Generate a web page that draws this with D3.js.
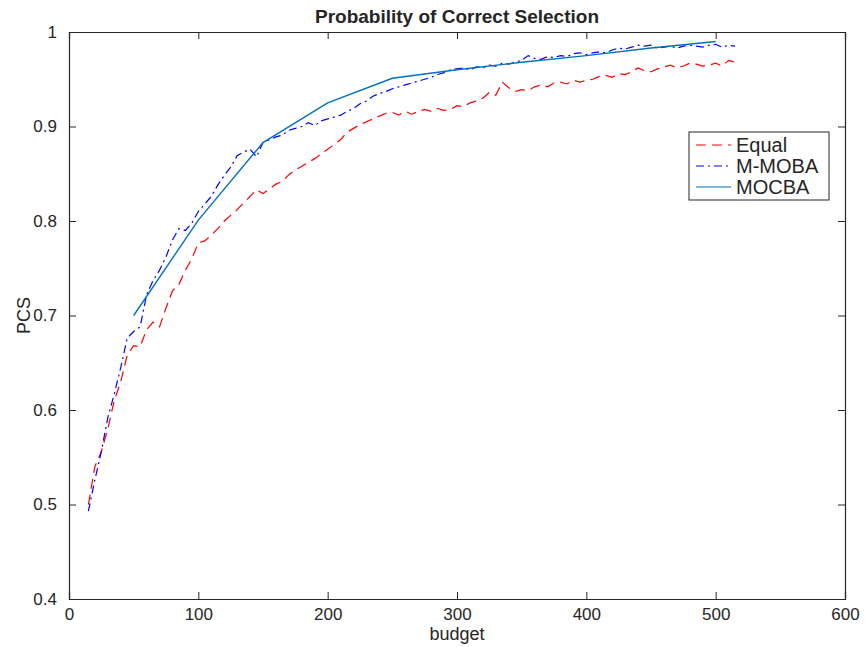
<!DOCTYPE html>
<html>
<head>
<meta charset="utf-8">
<script src="https://d3js.org/d3.v7.min.js"></script>
<style>
  body { margin: 0; background: #fff; }
  text { font-family: "Liberation Sans", Arial, sans-serif; fill: #262626; }
</style>
</head>
<body>
<svg id="chart" width="865" height="647"></svg>
<script>
// budgets for the two noisy curves (step of 5)
var budgets = d3.range(15, 516, 5);

var equalVals = [
  0.500, 0.540, 0.556, 0.580, 0.610, 0.630, 0.658, 0.668, 0.667, 0.685,
  0.693, 0.688, 0.708, 0.726, 0.733, 0.748, 0.760, 0.777, 0.779, 0.785,
  0.792, 0.800, 0.806, 0.812, 0.819, 0.826, 0.833, 0.829, 0.834, 0.839,
  0.842, 0.849, 0.854, 0.858, 0.862, 0.866, 0.871, 0.876, 0.881, 0.886,
  0.894, 0.898, 0.902, 0.905, 0.908, 0.911, 0.914, 0.915, 0.912, 0.916,
  0.913, 0.916, 0.918, 0.916, 0.919, 0.917, 0.918, 0.922, 0.921, 0.925,
  0.927, 0.930, 0.936, 0.933, 0.947, 0.941, 0.937, 0.939, 0.938, 0.942,
  0.944, 0.942, 0.946, 0.947, 0.945, 0.949, 0.947, 0.949, 0.950, 0.953,
  0.954, 0.952, 0.956, 0.955, 0.958, 0.962, 0.959, 0.958, 0.961, 0.963,
  0.965, 0.962, 0.964, 0.967, 0.966, 0.964, 0.965, 0.967, 0.964, 0.970,
  0.968
];

var mmobaVals = [
  0.493, 0.526, 0.556, 0.592, 0.617, 0.645, 0.676, 0.683, 0.688, 0.722,
  0.737, 0.748, 0.762, 0.780, 0.792, 0.790, 0.798, 0.810, 0.818, 0.826,
  0.838, 0.848, 0.857, 0.869, 0.873, 0.876, 0.868, 0.883, 0.886, 0.889,
  0.891, 0.896, 0.898, 0.900, 0.904, 0.901, 0.906, 0.908, 0.910, 0.912,
  0.916, 0.919, 0.924, 0.927, 0.932, 0.935, 0.937, 0.940, 0.942, 0.944,
  0.946, 0.948, 0.950, 0.952, 0.955, 0.957, 0.960, 0.961, 0.962, 0.960,
  0.963, 0.962, 0.965, 0.964, 0.967, 0.966, 0.968, 0.970, 0.975, 0.972,
  0.971, 0.974, 0.973, 0.975, 0.974, 0.977, 0.978, 0.976, 0.978, 0.979,
  0.978, 0.981, 0.983, 0.982, 0.984, 0.986, 0.985, 0.986, 0.983, 0.984,
  0.985, 0.983, 0.985, 0.986, 0.985, 0.984, 0.986, 0.987, 0.984, 0.986,
  0.985
];

var mocbaBudgets = [50, 100, 150, 200, 250, 300, 350, 400, 450, 500];
var mocbaVals = [0.700, 0.801, 0.883, 0.925, 0.951, 0.960, 0.968, 0.975, 0.983, 0.990];

var xTicks = [0, 100, 200, 300, 400, 500, 600];
var yTicks = [0.4, 0.5, 0.6, 0.7, 0.8, 0.9, 1];

var seriesNames = ["Equal", "M-MOBA", "MOCBA"];
var seriesColors = ["#ff0000", "#0000ff", "#0072bd"];
var seriesDash = ["10,6", "8,4,2,4", null];

// layout (plot box in pixels)
var pLeft = 69, pRight = 845, pTop = 32, pBottom = 599;
var svg = d3.select("#chart");

var x = d3.scaleLinear().domain([0, 600]).range([pLeft, pRight]);
var y = d3.scaleLinear().domain([0.4, 1]).range([pBottom, pTop]);

// clip for the plot area
svg.append("clipPath").attr("id", "plotclip")
  .append("rect").attr("x", pLeft).attr("y", pTop)
  .attr("width", pRight - pLeft).attr("height", pBottom - pTop);

var line = d3.line().x(function(d) { return x(d[0]); }).y(function(d) { return y(d[1]); });

var data = [
  budgets.map(function(b, i) { return [b, equalVals[i]]; }),
  budgets.map(function(b, i) { return [b, mmobaVals[i]]; }),
  mocbaBudgets.map(function(b, i) { return [b, mocbaVals[i]]; })
];

var plot = svg.append("g").attr("clip-path", "url(#plotclip)");
data.forEach(function(d, i) {
  plot.append("path")
    .datum(d)
    .attr("d", line)
    .attr("fill", "none")
    .attr("stroke", seriesColors[i])
    .attr("stroke-width", i == 2 ? 1.4 : 1.2)
    .attr("stroke-dasharray", seriesDash[i]);
});

// axes (ticks pointing in, box all round)
var tickLen = 7;
var axisColor = "#262626";

var xb = svg.append("g").attr("transform", "translate(0," + pBottom + ")")
  .call(d3.axisBottom(x).tickValues(xTicks).tickSize(-tickLen).tickPadding(tickLen + 4).tickFormat(d3.format("d")));
var xt = svg.append("g").attr("transform", "translate(0," + pTop + ")")
  .call(d3.axisTop(x).tickValues(xTicks).tickSize(-tickLen).tickFormat(""));
var yl = svg.append("g").attr("transform", "translate(" + pLeft + ",0)")
  .call(d3.axisLeft(y).tickValues(yTicks).tickSize(-tickLen).tickPadding(tickLen + 5).tickFormat(function(d) { return d3.format("")(+d.toFixed(1)); }));
var yr = svg.append("g").attr("transform", "translate(" + pRight + ",0)")
  .call(d3.axisRight(y).tickValues(yTicks).tickSize(-tickLen).tickFormat(""));

[xb, xt, yl, yr].forEach(function(g) {
  g.select(".domain").attr("stroke", axisColor).attr("stroke-width", 1.2);
  g.selectAll(".tick line").attr("stroke", axisColor);
  g.selectAll(".tick text").attr("fill", axisColor).style("font-size", "17px")
    .style("font-family", "'Liberation Sans', Arial, sans-serif");
});
xb.selectAll(".tick text").attr("dy", "0.6em");

// titles
svg.append("text").attr("x", (pLeft + pRight) / 2).attr("y", 23)
  .attr("text-anchor", "middle").style("font-size", "19px").style("font-weight", "bold")
  .attr("fill", "#000").text("Probability of Correct Selection");
svg.append("text").attr("x", (pLeft + pRight) / 2).attr("y", 640)
  .attr("text-anchor", "middle").style("font-size", "18px").text("budget");
svg.append("text").attr("transform", "translate(30," + ((pTop + pBottom) / 2) + ")rotate(-90)")
  .attr("text-anchor", "middle").style("font-size", "18px").text("PCS");

// legend
var legend = svg.append("g").attr("transform", "translate(689,132)");
legend.append("rect").attr("width", 140).attr("height", 68)
  .attr("fill", "#fff").attr("stroke", axisColor).attr("stroke-width", 1);
seriesNames.forEach(function(name, i) {
  var ly = 13 + i * 21;
  legend.append("line").attr("x1", 7).attr("x2", 42).attr("y1", ly).attr("y2", ly)
    .attr("stroke", seriesColors[i]).attr("stroke-width", 1.2)
    .attr("stroke-dasharray", seriesDash[i]);
  legend.append("text").attr("x", 47).attr("y", ly).attr("dy", "0.36em")
    .style("font-size", "20px").attr("fill", "#000").text(name);
});
</script>
</body>
</html>
